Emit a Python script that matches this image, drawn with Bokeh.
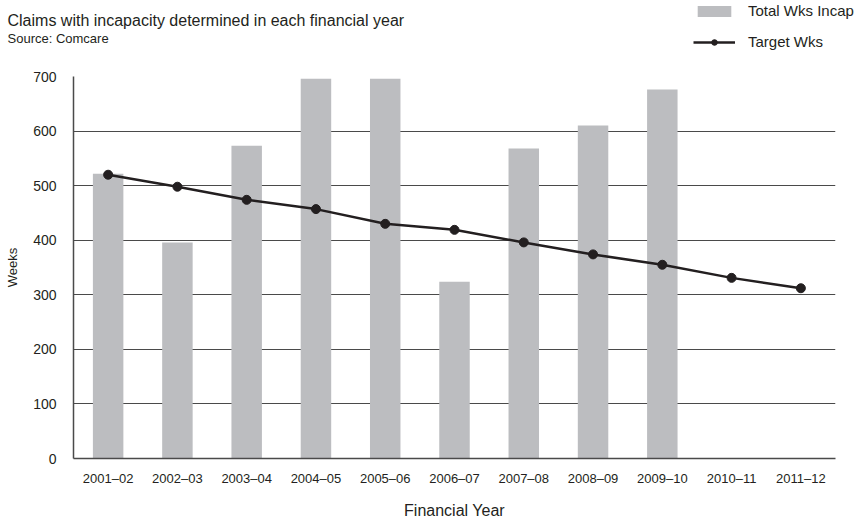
from bokeh.plotting import figure
from bokeh.models import (ColumnDataSource, Label, Legend, LegendItem, FactorRange,
                          Range1d, FixedTicker)
from bokeh.embed import file_html
from bokeh.resources import INLINE

years = ["2001–02", "2002–03", "2003–04", "2004–05", "2005–06", "2006–07",
         "2007–08", "2008–09", "2009–10", "2010–11", "2011–12"]
total_wks_incap = [522, 396, 573, 696, 696, 324, 568, 610, 676, 0, 0]
target_wks = [520, 498, 474, 457, 430, 419, 396, 374, 355, 331, 312]
y_ticks = [0, 100, 200, 300, 400, 500, 600, 700]

FONT = "Liberation Sans"
GRID = "#4a4a4a"
BAR = "#bcbdc0"
LINE = "#231f20"
TXT = "#231f20"
W = 864
HEAD_H = 66
MAIN_H = 455

bar_years = [y for y, v in zip(years, total_wks_incap) if v > 0]
bar_vals = [v for v in total_wks_incap if v > 0]
bar_src = ColumnDataSource(dict(x=bar_years, top=bar_vals))
line_src = ColumnDataSource(dict(x=years, y=target_wks))

# ---------------- header (title + legend) ----------------
# Legend proxies: one row of the series, kept outside the header's y window,
# so they never show and only give the legend its swatches.
proxy_src = ColumnDataSource(dict(x=years[:1], top=total_wks_incap[:1], y=target_wks[:1]))
head = figure(width=W, height=HEAD_H, output_backend="svg", toolbar_location=None,
              title=None, x_axis_location=None, y_axis_location=None,
              x_range=FactorRange(*years, range_padding=0),
              y_range=Range1d(-5000, -5000 + HEAD_H),
              min_border_left=0, min_border_right=0, min_border_top=0, min_border_bottom=0)
head.outline_line_color = None
head.background_fill_color = "white"
head.grid.grid_line_color = None

lg_bar = head.vbar(x="x", top="top", width=0, source=proxy_src,
                   fill_color=BAR, line_color=None)
lg_line = head.line(x="x", y="y", source=proxy_src, line_color=LINE, line_width=2.5)
lg_pts = head.scatter(x="x", y="y", source=proxy_src, size=9, fill_color=LINE, line_color=LINE)


def hlabel(text, x, y, size):
    head.add_layout(Label(x=x, y=y, x_units="screen", y_units="screen", text=text,
                          text_font=FONT, text_font_size=size, text_color=TXT,
                          text_baseline="alphabetic", text_align="left"))


hlabel("Claims with incapacity determined in each financial year", 7, HEAD_H - 20, "16px")
hlabel("Source: Comcare", 7, HEAD_H - 37.5, "13px")

legend = Legend(items=[LegendItem(label="Total Wks Incap", renderers=[lg_bar]),
                       LegendItem(label="Target Wks", renderers=[lg_line, lg_pts])],
                location=(693, HEAD_H - 50),
                glyph_width=42, glyph_height=14, label_height=14, spacing=14,
                label_standoff=13, padding=0, margin=0,
                label_text_font=FONT, label_text_font_size="15px",
                label_text_color=TXT,
                border_line_color=None, background_fill_alpha=0)
head.add_layout(legend, "center")

# ---------------- main chart ----------------
p = figure(width=W, height=MAIN_H, output_backend="svg", toolbar_location=None, title=None,
           x_range=FactorRange(*years, range_padding=0),
           y_range=Range1d(0, 700),
           min_border_left=73, min_border_right=29, min_border_top=10, min_border_bottom=63)
p.outline_line_color = None
p.background_fill_color = "white"

p.vbar(x="x", top="top", width=0.44, source=bar_src, fill_color=BAR, line_color=None)
p.line(x="x", y="y", source=line_src, line_color=LINE, line_width=2.5)
p.scatter(x="x", y="y", source=line_src, size=9, fill_color=LINE, line_color=LINE)

p.xgrid.grid_line_color = None
p.ygrid.grid_line_color = GRID
p.ygrid.grid_line_width = 1.2
p.yaxis.ticker = FixedTicker(ticks=y_ticks)
for ax in (p.xaxis[0], p.yaxis[0]):
    ax.major_tick_line_color = None
    ax.minor_tick_line_color = None
    ax.axis_line_color = GRID
    ax.axis_line_width = 1.5
    ax.major_label_text_font = FONT
    ax.major_label_text_color = TXT
    ax.axis_label_text_font = FONT
    ax.axis_label_text_font_style = "normal"
    ax.axis_label_text_color = TXT
p.xaxis.major_label_text_font_size = "13px"
p.yaxis.major_label_text_font_size = "14px"
p.yaxis.major_label_standoff = 11
p.xaxis.major_label_standoff = 6
p.yaxis.axis_label = "Weeks"
p.yaxis.axis_label_text_font_size = "13px"
p.yaxis.axis_label_standoff = 10
p.xaxis.axis_label = "Financial Year"
p.xaxis.axis_label_text_font_size = "16px"
p.xaxis.axis_label_standoff = 13

open("out.html", "w").write(file_html([head, p], INLINE))
